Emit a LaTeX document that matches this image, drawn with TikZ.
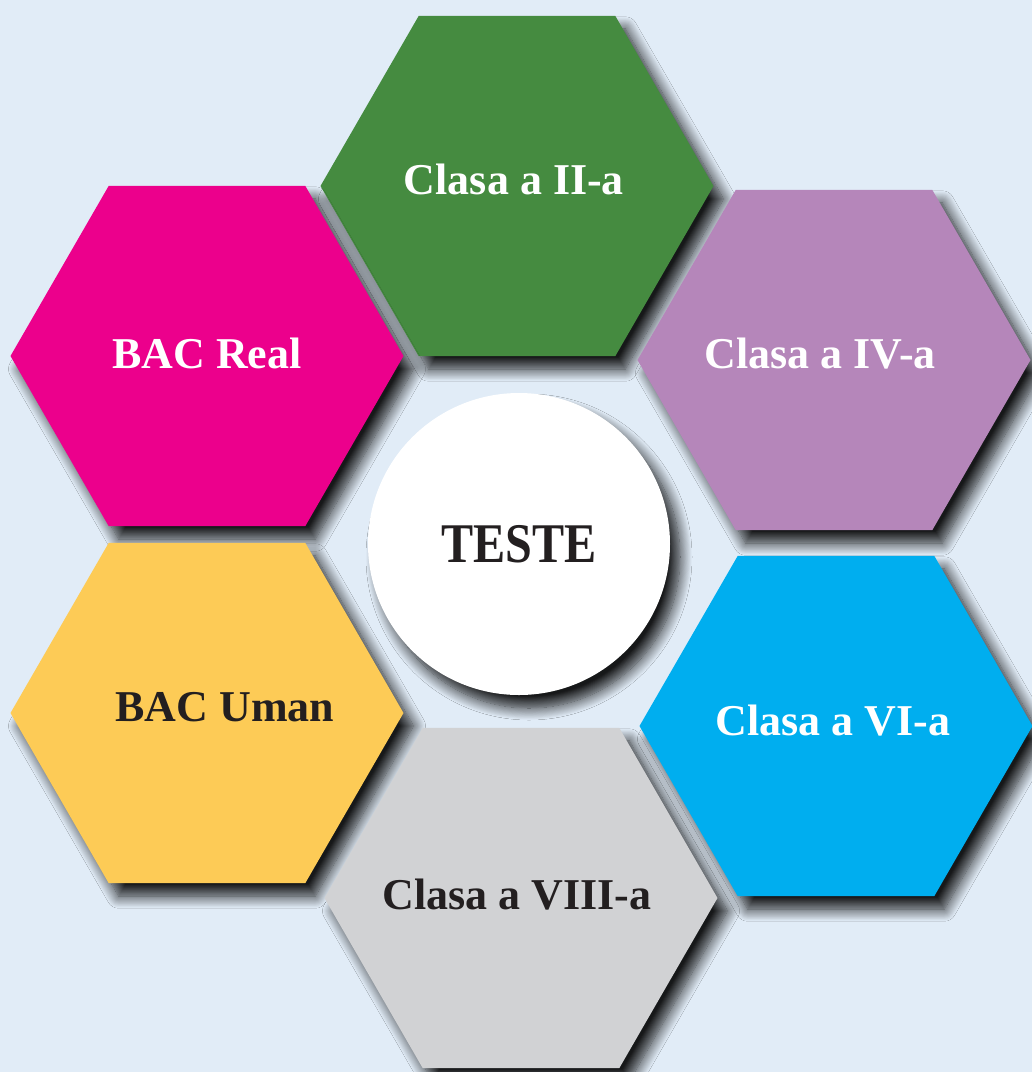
\documentclass[tikz,border=0pt]{standalone}
\usepackage{fontspec}
\setmainfont{Liberation Serif}
\usepackage{tikz}
\usetikzlibrary{shapes.geometric}
\usetikzlibrary{shadows.blur}

\definecolor{bgblue}{RGB}{225,236,247}
\definecolor{hexgreen}{RGB}{69,139,64}
\definecolor{hexpink}{RGB}{236,0,140}
\definecolor{hexlilac}{RGB}{181,134,186}
\definecolor{hexyellow}{RGB}{253,203,86}
\definecolor{hexcyan}{RGB}{0,174,239}
\definecolor{hexgrey}{RGB}{209,210,212}
\definecolor{inkdark}{RGB}{35,31,32}

\tikzset{x=1pt, y=-1pt, font=\bfseries\fontsize{44}{44}\selectfont}
\tikzset{softshadow/.style={blur shadow={shadow xshift=10pt, shadow yshift=-13pt, shadow blur radius=12pt, shadow blur steps=14, shadow opacity=90}}}
\tikzstyle{hexa} = [regular polygon, regular polygon sides=6, minimum size=393pt, inner sep=0pt, outer sep=0pt, softshadow]
\tikzstyle{hexlabel} = [inner sep=0pt, outer sep=0pt]
\tikzstyle{hub} = [circle, fill=white, minimum size=302pt, inner sep=0pt, outer sep=0pt, text=inkdark, font=\bfseries\fontsize{56}{56}\selectfont, softshadow]

\begin{document}
\begin{tikzpicture}
    \fill [bgblue] (0,0) rectangle (1032,1072);
    \useasboundingbox (0,0) rectangle (1032,1072);

    \node [hexa, fill=hexgreen, label={[hexlabel, text=white, xshift=-3pt, yshift=7pt]center:Clasa a II-a}] (cls2) at (517,186) {};
    \node [hexa, fill=hexpink, label={[hexlabel, text=white, yshift=3pt]center:BAC Real}] (bacreal) at (207,356) {};
    \node [hexa, fill=hexlilac, label={[hexlabel, text=white, xshift=-14pt, yshift=6pt]center:Clasa a IV-a}] (cls4) at (834,360) {};
    \node [hexa, fill=hexyellow, label={[hexlabel, text=inkdark, xshift=18pt, yshift=6pt]center:BAC Uman}] (bacuman) at (207,713) {};
    \node [hexa, fill=hexcyan, label={[hexlabel, text=white, xshift=-3pt, yshift=5pt]center:Clasa a VI-a}] (cls6) at (836,726) {};
    \node [hexa, fill=hexgrey, label={[hexlabel, text=inkdark, xshift=-4pt, yshift=3pt]center:Clasa a VIII-a}] (cls8) at (521,898) {};
    \node [hub] (teste) at (519,544) {\raisebox{-3pt}{\scalebox{0.86}[1]{TESTE}}};
\end{tikzpicture}
\end{document}
